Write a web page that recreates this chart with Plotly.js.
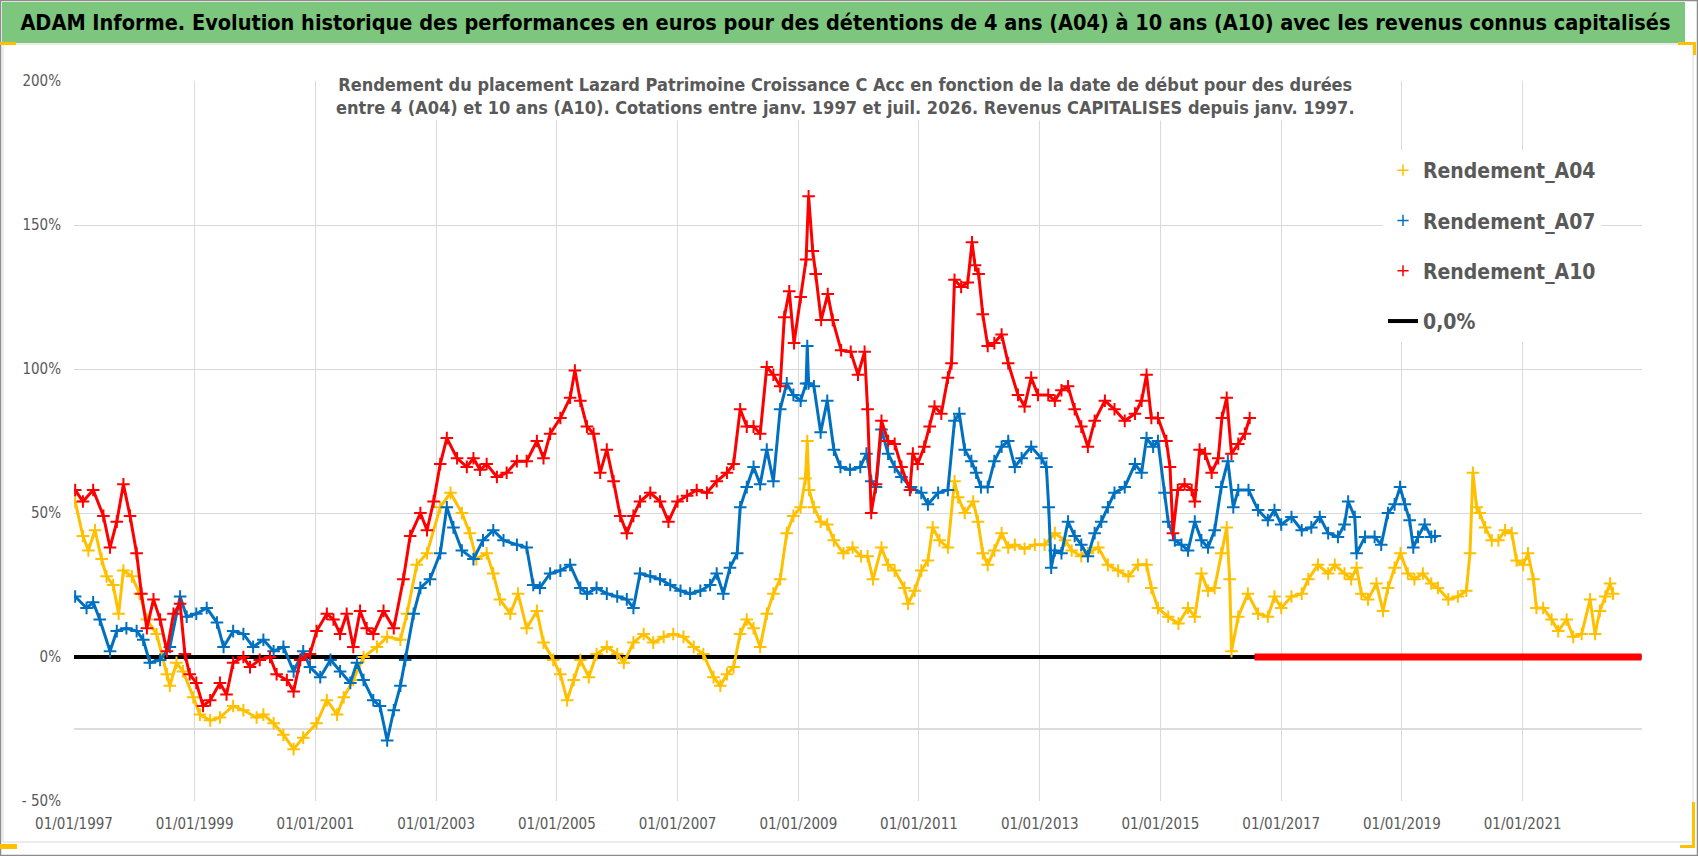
<!DOCTYPE html>
<html>
<head>
<meta charset="utf-8">
<script src="https://cdn.plot.ly/plotly-3.0.1.min.js"></script>
<style>
  html, body { margin: 0; padding: 0; background: #ffffff; }
  #chart { width: 1698px; height: 856px; }
</style>
</head>
<body>
<div id="chart"></div>
<script>
// ---------------- DATA ----------------
// x = decimal year of the start date, y = return in %
const a04Years = [1997.02,1997.15,1997.24,1997.35,1997.46,1997.54,1997.65,1997.74,1997.82,1997.96,1998.09,1998.21,1998.37,1998.54,1998.59,1998.70,1998.81,1998.98,1999.09,1999.26,1999.42,1999.64,1999.81,2000.03,2000.14,2000.31,2000.47,2000.64,2000.80,2001.02,2001.19,2001.36,2001.47,2001.63,2001.80,2002.02,2002.19,2002.41,2002.52,2002.68,2002.85,2003.07,2003.24,2003.43,2003.56,2003.67,2003.84,2003.95,2004.06,2004.23,2004.36,2004.50,2004.67,2004.78,2004.94,2005.06,2005.17,2005.28,2005.39,2005.53,2005.66,2005.83,2006.00,2006.11,2006.27,2006.44,2006.60,2006.77,2006.93,2007.10,2007.27,2007.43,2007.60,2007.71,2007.82,2007.93,2008.04,2008.15,2008.26,2008.37,2008.48,2008.59,2008.70,2008.81,2008.92,2009.04,2009.12,2009.15,2009.18,2009.26,2009.37,2009.48,2009.59,2009.75,2009.90,2010.04,2010.15,2010.24,2010.38,2010.49,2010.60,2010.76,2010.82,2010.93,2011.04,2011.15,2011.23,2011.34,2011.48,2011.59,2011.65,2011.76,2011.90,2011.98,2012.06,2012.14,2012.25,2012.37,2012.48,2012.59,2012.75,2012.92,2013.08,2013.25,2013.42,2013.53,2013.69,2013.80,2013.97,2014.13,2014.30,2014.47,2014.63,2014.77,2014.85,2014.96,2015.13,2015.30,2015.46,2015.57,2015.68,2015.79,2015.90,2016.01,2016.10,2016.15,2016.18,2016.29,2016.45,2016.62,2016.78,2016.89,2017.00,2017.17,2017.34,2017.45,2017.61,2017.78,2017.89,2018.05,2018.16,2018.25,2018.33,2018.44,2018.58,2018.69,2018.77,2018.88,2018.98,2019.10,2019.21,2019.35,2019.49,2019.60,2019.77,2019.93,2020.07,2020.13,2020.18,2020.24,2020.29,2020.38,2020.49,2020.60,2020.71,2020.82,2020.90,2021.01,2021.09,2021.18,2021.23,2021.34,2021.48,2021.59,2021.73,2021.84,2021.98,2022.12,2022.20,2022.28,2022.37,2022.45,2022.50];
const a04Values = [54,42,37,44,34,28,25,15,30,28,22,13,8,-6,-10,-2,-5,-14,-20,-22,-21,-17,-18.5,-21,-20,-23,-27,-32,-28,-23,-15,-20,-14,-8,0,3.5,7,6,15,32,36,52,57,50,43,34,36,29,20,15,22,10,16,5,-1,-6,-15,-8,-1,-7,1,3.5,1,-2,5,8,5,7,8,7,3.5,1,-7,-10,-6,-3.5,8,13,10,3.5,15,22,27,43,49,52,62,75,58,52,47,46,40.5,36,38,35,35,27,38,32,30,24,18.5,23,30,33.5,45,40.5,38,61,55.5,50,54,47,36,32,37,43,38,39,37.6,39,39,43,40.5,37,35,36,38,32,30,28,32,32,24,17,14,11.6,17,14,29,23,24,36,45,27,2,14,22,15,14,21,17,21,22,27,32,29,32,29,27,31,22,20,25.5,16,24,31,36,29,27,29,25.5,24,20,21,23,36,64,52,50,45,40.5,40.5,44,43,33.5,32,36,27,17,17,13,9,13,7,8,20,8,16,21,25.5,22];

const a07Years = [1997.02,1997.21,1997.32,1997.43,1997.60,1997.71,1997.87,1998.04,1998.15,1998.26,1998.43,1998.59,1998.76,1998.87,1999.03,1999.20,1999.37,1999.48,1999.64,1999.81,1999.97,2000.14,2000.31,2000.47,2000.64,2000.80,2000.91,2001.08,2001.25,2001.41,2001.58,2001.69,2001.80,2001.96,2002.07,2002.19,2002.30,2002.41,2002.49,2002.63,2002.74,2002.90,2003.07,2003.18,2003.29,2003.43,2003.62,2003.78,2003.95,2004.12,2004.34,2004.50,2004.61,2004.72,2004.89,2005.06,2005.22,2005.39,2005.50,2005.66,2005.83,2006.00,2006.16,2006.27,2006.38,2006.55,2006.71,2006.88,2007.05,2007.21,2007.38,2007.54,2007.65,2007.76,2007.87,2007.99,2008.04,2008.15,2008.26,2008.37,2008.48,2008.59,2008.70,2008.81,2008.92,2009.04,2009.13,2009.15,2009.17,2009.26,2009.37,2009.48,2009.59,2009.70,2009.86,2010.03,2010.13,2010.21,2010.29,2010.38,2010.49,2010.60,2010.71,2010.87,2011.04,2011.15,2011.32,2011.48,2011.59,2011.67,2011.76,2011.87,2011.95,2012.03,2012.14,2012.25,2012.37,2012.48,2012.59,2012.70,2012.86,2013.03,2013.11,2013.15,2013.19,2013.25,2013.36,2013.47,2013.58,2013.69,2013.80,2013.91,2014.02,2014.13,2014.24,2014.41,2014.58,2014.69,2014.77,2014.88,2014.96,2015.07,2015.13,2015.24,2015.35,2015.46,2015.57,2015.68,2015.79,2015.90,2016.01,2016.12,2016.21,2016.29,2016.46,2016.62,2016.78,2016.89,2017.00,2017.17,2017.34,2017.50,2017.64,2017.78,2017.94,2018.05,2018.11,2018.22,2018.25,2018.39,2018.55,2018.66,2018.77,2018.88,2018.97,2019.05,2019.13,2019.19,2019.27,2019.38,2019.49,2019.55];
const a07Values = [21,17,19,13,2,9,10,9,6,-2,-1,3.5,21,14,15,17,12,3.5,9,8,3.5,6,2,3.5,-5,2,-3.5,-7,-1,-5,-9,-2,-8,-15,-17,-29,-18.5,-10,-1,15,24,27,36,52,45,37,34,40.5,44,40.5,39,38,25,24,29,30,32,24,22,24,22,21,20,17,29,28,27,25,23,22,23,25,29,22,31,36,52,59,66,60,72,61,86,95,91,89,95,108,95,94,78,89,72,66,65,66,70.6,61,59,79,70.6,66,62.5,59,57,53,57,58,82,84.5,72,68,64,59,59,68,73,75,66,69,73,69,66,52,31,37,36,47,42,39,35,43,47,52,57,59,67,64,76,73,75,57,47,40.5,39,37,47,40.5,38,44,59,68,52,58,58,51,47.5,51,46,48.6,44,45,48.6,43,41.7,46,54,48.6,36,41.7,41.7,39,50,53,59,53,47.5,38,41.7,46,41.7,42];

const a10Years = [1997.02,1997.15,1997.32,1997.49,1997.60,1997.71,1997.82,1997.93,1998.04,1998.12,1998.21,1998.32,1998.43,1998.54,1998.65,1998.76,1998.84,1998.92,1999.03,1999.14,1999.26,1999.42,1999.53,1999.64,1999.81,1999.92,2000.08,2000.25,2000.36,2000.53,2000.64,2000.75,2000.91,2001.02,2001.19,2001.30,2001.41,2001.52,2001.63,2001.74,2001.85,2001.96,2002.13,2002.30,2002.46,2002.57,2002.74,2002.85,2002.96,2003.07,2003.18,2003.35,2003.51,2003.62,2003.73,2003.84,2004.01,2004.17,2004.34,2004.50,2004.67,2004.78,2004.89,2005.06,2005.22,2005.30,2005.39,2005.50,2005.61,2005.72,2005.83,2005.94,2006.05,2006.16,2006.27,2006.38,2006.55,2006.71,2006.85,2007.00,2007.16,2007.32,2007.49,2007.65,2007.82,2007.93,2008.04,2008.15,2008.26,2008.37,2008.48,2008.59,2008.70,2008.77,2008.85,2008.93,2009.04,2009.13,2009.17,2009.24,2009.29,2009.38,2009.49,2009.57,2009.71,2009.87,2009.99,2010.10,2010.15,2010.21,2010.29,2010.38,2010.49,2010.60,2010.71,2010.85,2010.90,2010.98,2011.09,2011.18,2011.26,2011.37,2011.48,2011.54,2011.59,2011.70,2011.81,2011.88,2011.93,2011.99,2012.06,2012.14,2012.25,2012.37,2012.48,2012.64,2012.75,2012.86,2012.97,2013.14,2013.25,2013.36,2013.47,2013.58,2013.69,2013.80,2013.91,2014.08,2014.24,2014.41,2014.58,2014.69,2014.77,2014.85,2014.96,2015.10,2015.16,2015.21,2015.29,2015.40,2015.52,2015.57,2015.65,2015.74,2015.85,2015.96,2016.02,2016.10,2016.18,2016.29,2016.40,2016.48];
const a10Values = [58,54,58,49,38,47,60,49,36,22,10,20,13,2,15,18.5,1,-6,-9,-17,-15,-9,-13,-2,0,-3.5,-1,0,-6,-8,-12,-1,1,9,15,13,8,15,3.5,16,10,8,16,10,27,42,50,44,54,67,76,69,66,69,65,67,62.5,64,68,68,75,69,77.5,83,90,99.5,89,80,77.5,64,72,61,49,43,49,54,57,54,47,54,56,58,57,61,64,67,86,80,80,77.5,100.7,98,94,118,127,109,125,138,160,141,133,117,126,117,106.5,106,98,106,86,50,60,82,75,74,66,58,70.6,67,73,80,87,84.5,97,102,131,128.5,130,144,136,133,119,108,109,112,102,91,87,97,91,91,89,92.6,94,86,80,73,82,89,86,82,84.5,89,98,83,83,75,66,43,58,60,58,54,72,70.6,64,69,83,90,70.6,74,77.5,83];

// A10 returns shown as 0 after mid-2016 (no 10-year window yet)
const a10ZeroYears = [2016.56, 2022.97];
const a10ZeroValues = [0, 0];

// 0,0% reference series
const zeroYears = [1997.0, 2022.97];
const zeroValues = [0, 0];

const seriesNames = ['Rendement_A04', 'Rendement_A07', 'Rendement_A10', '0,0%'];
const yTickValues = [-50, 0, 50, 100, 150, 200];
const yTickLabels = ['- 50%', '0%', '50%', '100%', '150%', '200%'];

const mainTitle = 'ADAM Informe. Evolution historique des performances en euros pour des détentions de 4 ans (A04) à 10 ans (A10) avec les revenus connus capitalisés';
const subTitle1 = 'Rendement du placement Lazard Patrimoine Croissance C Acc en fonction de la date de début pour des durées';
const subTitle2 = 'entre 4 (A04) et 10 ans (A10). Cotations entre janv. 1997 et juil. 2026. Revenus CAPITALISES depuis janv. 1997.';

// ---------------- helpers ----------------
function toDate(y) {
  const yr = Math.floor(y);
  const s = Date.UTC(yr, 0, 1), e = Date.UTC(yr + 1, 0, 1);
  return new Date(s + (y - yr) * (e - s)).toISOString().slice(0, 10);
}
const FONT = '"Liberation Sans Narrow", "Arial Narrow", "DejaVu Sans Condensed", sans-serif';
const C04 = '#FFC000', C07 = '#0070C0', C10 = '#FF0000', GREY = '#595959';

function dataTrace(years, values, color) {
  return {
    type: 'scatter', mode: 'lines+markers', showlegend: false, hoverinfo: 'skip',
    x: years.map(toDate), y: values,
    line: {color: color, width: 3},
    marker: {symbol: 'cross-thin', size: 9, color: color, line: {color: color, width: 2}}
  };
}
function legendTrace(name, color, group) {
  return {
    type: 'scatter', mode: 'markers', name: name, legendgroup: group,
    x: [null], y: [null],
    marker: {symbol: 'cross-thin', size: 8, color: color, line: {color: color, width: 1.5}}
  };
}

const traces = [
  {type: 'scatter', mode: 'lines', name: seriesNames[3], legendgroup: 'g4', legendrank: 4,
   x: zeroYears.map(toDate), y: zeroValues, line: {color: '#000000', width: 4}, hoverinfo: 'skip'},
  dataTrace(a04Years, a04Values, C04),
  dataTrace(a07Years, a07Values, C07),
  dataTrace(a10Years, a10Values, C10),
  {type: 'scatter', mode: 'lines', showlegend: false, hoverinfo: 'skip',
   x: a10ZeroYears.map(toDate), y: a10ZeroValues, line: {color: C10, width: 7}},
  Object.assign(legendTrace(seriesNames[0], C04, 'g1'), {legendrank: 1}),
  Object.assign(legendTrace(seriesNames[1], C07, 'g2'), {legendrank: 2}),
  Object.assign(legendTrace(seriesNames[2], C10, 'g3'), {legendrank: 3})
];

// paper coordinate helpers (plot area: x 74..1642 px, y 81..801 px)
const px = v => (v - 74) / 1568;
const py = v => (801 - v) / 720;

const shapes = [
  // green title bar
  {type: 'rect', xref: 'paper', yref: 'paper', x0: px(2), x1: px(1685), y0: py(43), y1: py(2),
   fillcolor: '#7CC67E', line: {width: 0}, layer: 'below'},
  // inner chart frame
  {type: 'rect', xref: 'paper', yref: 'paper', x0: px(3), x1: px(1693), y0: py(842), y1: py(44),
   line: {color: '#d9d9d9', width: 1}, layer: 'below'},
  // outer frame
  {type: 'rect', xref: 'paper', yref: 'paper', x0: px(0.5), x1: px(1697.5), y0: py(855.5), y1: py(0.5),
   line: {color: '#8c8c8c', width: 1.5}, layer: 'below'},
  // horizontal axis line (crosses at -25%)
  {type: 'line', xref: 'paper', yref: 'y', x0: 0, x1: 1, y0: -25, y1: -25,
   line: {color: '#d0d0d0', width: 1.5}, layer: 'below'},
  // yellow selection marks
  {type: 'rect', xref: 'paper', yref: 'paper', x0: px(0), x1: px(16), y0: py(45), y1: py(42), fillcolor: '#FFC000', line: {width: 0}},
  {type: 'rect', xref: 'paper', yref: 'paper', x0: px(1678), x1: px(1696), y0: py(45), y1: py(42), fillcolor: '#FFC000', line: {width: 0}},
  {type: 'rect', xref: 'paper', yref: 'paper', x0: px(1693), x1: px(1696), y0: py(55), y1: py(42), fillcolor: '#FFC000', line: {width: 0}},
  {type: 'rect', xref: 'paper', yref: 'paper', x0: px(1692), x1: px(1695), y0: py(848), y1: py(802), fillcolor: '#FFC000', line: {width: 0}},
  {type: 'rect', xref: 'paper', yref: 'paper', x0: px(1680), x1: px(1695), y0: py(848), y1: py(845), fillcolor: '#FFC000', line: {width: 0}},
  {type: 'rect', xref: 'paper', yref: 'paper', x0: px(0), x1: px(17), y0: py(849), y1: py(844), fillcolor: '#FFC000', line: {width: 0}}
];

const layout = {
  width: 1698, height: 856,
  margin: {l: 74, r: 56, t: 81, b: 55, pad: 0},
  paper_bgcolor: '#ffffff', plot_bgcolor: '#ffffff',
  showlegend: true,
  title: {
    text: '<b>' + mainTitle + '</b>',
    font: {family: FONT, size: 21.5, color: '#000000'},
    xref: 'container', x: 0.012, xanchor: 'left',
    yref: 'container', y: 1 - 22 / 856, yanchor: 'middle'
  },
  xaxis: {
    type: 'date', range: ['1997-01-01', '2022-12-24'],
    tick0: '1997-01-01', dtick: 'M24', tickformat: '%d/%m/%Y',
    showgrid: true, gridcolor: '#d9d9d9', gridwidth: 1,
    zeroline: false, showline: false, ticks: '', ticklabelstandoff: 12,
    tickfont: {family: FONT, size: 15, color: GREY}
  },
  yaxis: {
    range: [-50, 200], tickvals: yTickValues, ticktext: yTickLabels,
    showgrid: true, gridcolor: '#d9d9d9', gridwidth: 1,
    zeroline: false, showline: false, ticks: '', ticklabelstandoff: 12,
    tickfont: {family: FONT, size: 15, color: GREY}
  },
  legend: {
    x: px(1383), y: py(150), xanchor: 'left', yanchor: 'top',
    bgcolor: '#ffffff', borderwidth: 0,
    font: {family: FONT, size: 21, color: GREY, weight: 'bold'},
    traceorder: 'grouped', tracegroupgap: 20, itemwidth: 30
  },
  annotations: [{
    xref: 'paper', yref: 'paper', x: px(845), y: py(96), xanchor: 'center', yanchor: 'middle',
    showarrow: false, bgcolor: '#ffffff', borderpad: 2,
    text: '<b>' + subTitle1 + '</b><br><b>' + subTitle2 + '</b>',
    font: {family: FONT, size: 18, color: GREY}
  }],
  shapes: shapes
};

Plotly.newPlot('chart', traces, layout, {staticPlot: true, displayModeBar: false});
</script>
</body>
</html>
